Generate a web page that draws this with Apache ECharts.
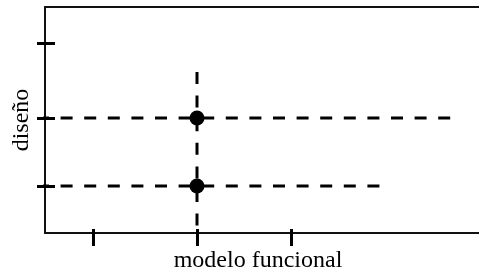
<!DOCTYPE html>
<html>
<head>
<meta charset="utf-8">
<script src="https://cdn.jsdelivr.net/npm/echarts@6/dist/echarts.min.js"></script>
<style>
  html, body { margin: 0; padding: 0; background: #fff; }
  #chart { width: 479px; height: 272px; }
</style>
</head>
<body>
<div id="chart"></div>
<script>
// axis scale: 1 unit ~ 100px
const xName = "modelo funcional";
const yName = "diseño";
const xTicks = [0.935, 1.97, 2.91];
const yTicks = [0.47, 1.15, 1.90];
const points = [[1.97, 1.15], [1.97, 0.47]];
const lineTop = [[0.37, 1.15], [4.51, 1.15]];
const lineBottom = [[0.37, 0.47], [3.85, 0.47]];
const lineVert = [[1.97, 1.61], [1.97, 0]];

const axisColor = "#111";
const font = "Liberation Serif";

const dashed = (data) => ({
  type: "line",
  data: data,
  symbol: "none",
  clip: false,
  silent: true,
  lineStyle: { color: "#000", width: 3, type: [12, 11.6] },
  z: 2
});

const chart = echarts.init(document.getElementById("chart"));
chart.setOption({
  animation: false,
  grid: { left: 45, right: 0, top: 7, bottom: 39, containLabel: false, outerBoundsMode: "none" },
  xAxis: [
    {
      type: "value",
      min: 0.45,
      max: 4.79,
      position: "bottom",
      name: xName,
      nameLocation: "middle",
      nameGap: 16,
      nameTextStyle: { fontFamily: font, fontSize: 24, color: "#000", padding: [0, 8, 0, 0] },
      axisLine: { lineStyle: { color: axisColor, width: 2 } },
      axisTick: { show: true, inside: false, length: 13, customValues: xTicks, lineStyle: { color: "#000", width: 3 } },
      axisLabel: { show: false },
      splitLine: { show: false }
    },
    {
      type: "value",
      min: 0.45,
      max: 4.79,
      position: "bottom",
      axisLine: { show: false },
      axisTick: { show: true, inside: true, length: 4, customValues: xTicks, lineStyle: { color: "#000", width: 3 } },
      axisLabel: { show: false },
      splitLine: { show: false }
    },
    {
      type: "value",
      min: 0.45,
      max: 4.79,
      position: "top",
      axisLine: { show: true, lineStyle: { color: axisColor, width: 2 } },
      axisTick: { show: false },
      axisLabel: { show: false },
      splitLine: { show: false }
    }
  ],
  yAxis: [
    {
      type: "value",
      min: 0,
      max: 2.26,
      position: "left",
      name: yName,
      nameLocation: "middle",
      nameGap: 11,
      nameTextStyle: { fontFamily: font, fontSize: 24, color: "#000" },
      axisLine: { show: true, lineStyle: { color: axisColor, width: 2 } },
      axisTick: { show: true, inside: false, length: 8, customValues: yTicks, lineStyle: { color: "#000", width: 3 } },
      axisLabel: { show: false },
      splitLine: { show: false }
    },
    {
      type: "value",
      min: 0,
      max: 2.26,
      position: "left",
      axisLine: { show: false },
      axisTick: { show: true, inside: true, length: 10, customValues: yTicks, lineStyle: { color: "#000", width: 3 } },
      axisLabel: { show: false },
      splitLine: { show: false }
    }
  ],
  series: [
    dashed(lineTop),
    dashed(lineBottom),
    dashed(lineVert),
    {
      type: "scatter",
      data: points,
      symbol: "circle",
      symbolSize: 15,
      itemStyle: { color: "#000", opacity: 1 },
      z: 5
    }
  ]
});
</script>
</body>
</html>
